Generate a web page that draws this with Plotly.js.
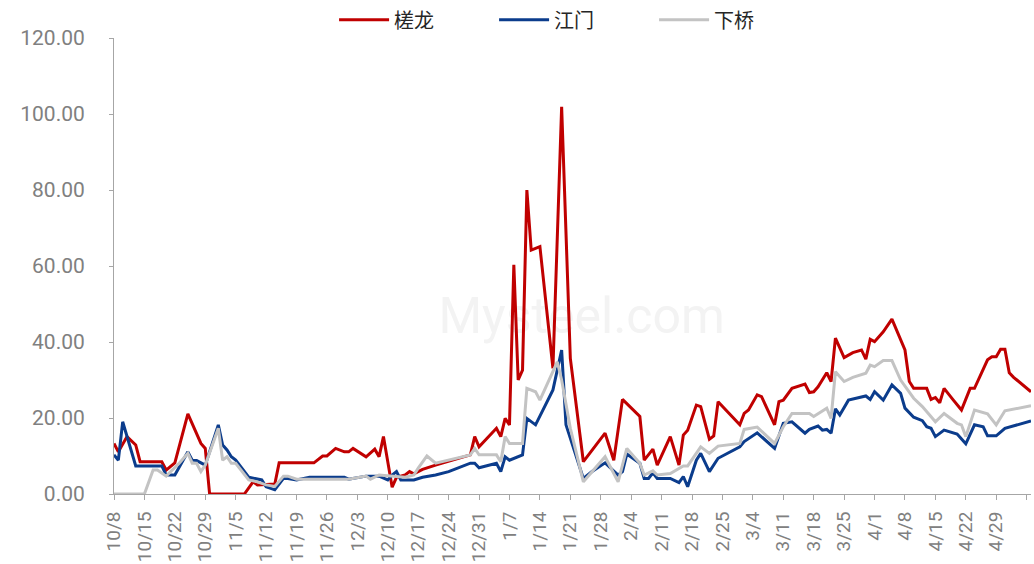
<!DOCTYPE html>
<html>
<head>
<meta charset="utf-8">
<script src="https://cdn.plot.ly/plotly-3.0.1.min.js"></script>
<style>html,body{margin:0;padding:0;background:#fff;}#chart{width:1034px;height:564px;}</style>
</head>
<body>
<div id="chart"></div>
<script>
// Series names
const seriesNames = ['槎龙', '江门', '下桥'];

// 槎龙
const chalongDates = ['2024-10-08','2024-10-09','2024-10-11','2024-10-13','2024-10-14','2024-10-19','2024-10-20','2024-10-22','2024-10-25','2024-10-28','2024-10-29','2024-10-30','2024-11-07','2024-11-09','2024-11-10','2024-11-14','2024-11-15','2024-11-23','2024-11-25','2024-11-26','2024-11-28','2024-11-30','2024-12-01','2024-12-02','2024-12-05','2024-12-07','2024-12-08','2024-12-09','2024-12-11','2024-12-12','2024-12-14','2024-12-15','2024-12-16','2024-12-18','2024-12-21','2024-12-29','2024-12-30','2024-12-31','2025-01-04','2025-01-05','2025-01-06','2025-01-07','2025-01-08','2025-01-09','2025-01-10','2025-01-11','2025-01-12','2025-01-14','2025-01-17','2025-01-19','2025-01-21','2025-01-24','2025-01-29','2025-01-31','2025-02-02','2025-02-06','2025-02-07','2025-02-09','2025-02-10','2025-02-13','2025-02-15','2025-02-16','2025-02-17','2025-02-19','2025-02-20','2025-02-22','2025-02-23','2025-02-24','2025-03-01','2025-03-02','2025-03-03','2025-03-05','2025-03-06','2025-03-09','2025-03-10','2025-03-11','2025-03-13','2025-03-16','2025-03-17','2025-03-18','2025-03-19','2025-03-21','2025-03-22','2025-03-23','2025-03-25','2025-03-27','2025-03-29','2025-03-30','2025-03-31','2025-04-01','2025-04-03','2025-04-05','2025-04-08','2025-04-09','2025-04-10','2025-04-13','2025-04-14','2025-04-15','2025-04-16','2025-04-17','2025-04-19','2025-04-21','2025-04-23','2025-04-24','2025-04-27','2025-04-28','2025-04-29','2025-04-30','2025-05-01','2025-05-02','2025-05-03','2025-05-07'];
const chalongValues = [13.3,11.1,15.1,12.9,8.5,8.5,6.3,8.2,21.1,13.3,12.0,0,0,3.2,2.4,2.6,8.2,8.2,10.0,10.0,12.0,11.1,11.1,12.0,9.8,11.8,9.8,15.1,1.8,4.4,5.0,5.9,5.3,6.5,7.6,10.3,15.1,12.4,17.3,15.1,19.9,18.2,60.3,30.0,32.6,80.0,64.2,65.1,33.1,101.9,35.7,8.5,16.0,8.9,24.9,20.4,8.9,11.8,7.6,15.1,7.6,15.5,16.8,23.4,23.0,14.4,15.3,24.3,18.2,21.2,22.1,26.1,25.6,18.2,24.3,24.7,27.8,28.9,26.7,26.9,28.2,31.9,29.6,41.0,35.9,37.2,37.9,35.5,40.7,40.1,42.7,46.0,37.9,29.6,27.8,27.8,24.9,25.4,24.0,27.8,24.9,22.1,27.8,27.8,35.3,36.1,36.1,38.1,38.1,31.9,30.7,26.9];

// 江门
const jiangmenDates = ['2024-10-08','2024-10-09','2024-10-10','2024-10-12','2024-10-13','2024-10-19','2024-10-20','2024-10-22','2024-10-25','2024-10-26','2024-10-27','2024-10-29','2024-11-01','2024-11-02','2024-11-03','2024-11-04','2024-11-05','2024-11-08','2024-11-11','2024-11-12','2024-11-14','2024-11-16','2024-11-17','2024-11-19','2024-11-22','2024-11-30','2024-12-01','2024-12-05','2024-12-08','2024-12-10','2024-12-11','2024-12-12','2024-12-13','2024-12-16','2024-12-18','2024-12-21','2024-12-24','2024-12-29','2024-12-30','2024-12-31','2025-01-04','2025-01-05','2025-01-06','2025-01-07','2025-01-10','2025-01-11','2025-01-13','2025-01-17','2025-01-19','2025-01-20','2025-01-24','2025-01-26','2025-01-29','2025-02-01','2025-02-02','2025-02-03','2025-02-06','2025-02-07','2025-02-08','2025-02-09','2025-02-10','2025-02-13','2025-02-15','2025-02-16','2025-02-17','2025-02-19','2025-02-20','2025-02-22','2025-02-24','2025-03-01','2025-03-02','2025-03-05','2025-03-09','2025-03-11','2025-03-13','2025-03-16','2025-03-17','2025-03-19','2025-03-20','2025-03-21','2025-03-22','2025-03-23','2025-03-24','2025-03-26','2025-03-30','2025-03-31','2025-04-01','2025-04-03','2025-04-05','2025-04-07','2025-04-08','2025-04-10','2025-04-12','2025-04-13','2025-04-14','2025-04-15','2025-04-17','2025-04-20','2025-04-22','2025-04-24','2025-04-26','2025-04-27','2025-04-29','2025-05-01','2025-05-07'];
const jiangmenValues = [10.3,8.9,19.0,11.6,7.4,7.4,5.0,5.0,11.1,8.9,8.8,7.6,18.2,12.9,11.6,9.8,8.9,4.4,3.7,1.9,1.1,4.1,4.1,3.7,4.4,4.4,3.9,4.7,4.7,3.7,5.0,5.9,3.7,3.7,4.4,5.0,5.9,8.1,8.1,6.9,8.1,5.9,9.8,8.9,10.3,19.9,18.2,27.4,37.9,18.2,4.1,5.9,8.2,5.0,5.9,10.5,8.1,4.1,4.1,5.6,4.1,4.1,3.0,4.6,1.9,8.9,10.7,5.9,9.4,12.4,13.8,16.1,12.0,18.6,19.0,16.0,17.0,17.9,16.8,17.0,16.0,22.4,20.8,24.7,25.8,24.9,26.9,24.7,28.7,26.5,22.6,20.2,19.3,17.7,17.3,15.1,16.8,15.8,13.2,18.2,17.7,15.3,15.3,17.3,19.2];

// 下桥
const xiaqiaoDates = ['2024-10-08','2024-10-15','2024-10-17','2024-10-18','2024-10-20','2024-10-23','2024-10-25','2024-10-26','2024-10-27','2024-10-28','2024-10-29','2024-11-01','2024-11-02','2024-11-03','2024-11-04','2024-11-05','2024-11-08','2024-11-10','2024-11-12','2024-11-14','2024-11-16','2024-11-17','2024-11-19','2024-12-01','2024-12-05','2024-12-06','2024-12-08','2024-12-12','2024-12-14','2024-12-16','2024-12-17','2024-12-19','2024-12-21','2024-12-29','2024-12-30','2024-12-31','2025-01-04','2025-01-05','2025-01-06','2025-01-07','2025-01-10','2025-01-11','2025-01-13','2025-01-14','2025-01-18','2025-01-19','2025-01-21','2025-01-24','2025-01-29','2025-02-01','2025-02-03','2025-02-06','2025-02-07','2025-02-09','2025-02-10','2025-02-13','2025-02-16','2025-02-17','2025-02-20','2025-02-22','2025-02-24','2025-03-01','2025-03-02','2025-03-05','2025-03-09','2025-03-11','2025-03-13','2025-03-17','2025-03-18','2025-03-21','2025-03-22','2025-03-23','2025-03-25','2025-03-27','2025-03-30','2025-03-31','2025-04-01','2025-04-03','2025-04-05','2025-04-07','2025-04-10','2025-04-12','2025-04-14','2025-04-15','2025-04-17','2025-04-20','2025-04-21','2025-04-22','2025-04-24','2025-04-27','2025-04-29','2025-05-01','2025-05-07'];
const xiaqiaoValues = [0,0,6.3,6.3,4.7,8.1,10.7,8.1,8.1,5.9,7.6,17.3,8.9,9.8,8.1,8.1,3.7,3.2,2.4,2.0,4.7,4.7,3.9,3.9,4.7,3.9,5.0,4.7,4.4,5.0,6.8,10.0,8.1,10.3,12.0,10.3,10.3,8.5,15.1,13.3,13.3,27.8,26.9,24.7,34.8,30.0,17.3,3.2,9.8,3.2,12.0,8.1,5.0,6.1,5.0,5.4,7.4,7.4,12.4,10.7,12.6,13.3,17.0,17.6,13.3,17.7,21.2,21.2,20.4,22.6,19.9,32.2,29.6,30.7,31.8,33.9,33.5,35.1,35.1,30.0,25.2,23.0,20.4,19.0,21.2,18.6,18.2,15.1,22.1,21.1,18.2,21.9,23.2];

const seriesColors = ['#C00000', '#0B3C8C', '#C3C3C3'];

const traces = [
  {x: chalongDates, y: chalongValues, name: seriesNames[0]},
  {x: jiangmenDates, y: jiangmenValues, name: seriesNames[1]},
  {x: xiaqiaoDates, y: xiaqiaoValues, name: seriesNames[2]}
].map((t, i) => Object.assign(t, {
  type: 'scatter', mode: 'lines',
  line: {color: seriesColors[i], width: 3}
}));

const yTickFont = {family: 'Roboto, "DejaVu Sans", sans-serif', size: 21, color: '#808080'};
const xTickFont = {family: 'Roboto, "DejaVu Sans", sans-serif', size: 19, color: '#808080'};
const axisColor = '#A6A6A6';

const layout = {
  width: 1034, height: 564,
  margin: {l: 114, r: 3, t: 38, b: 70, autoexpand: false},
  paper_bgcolor: '#ffffff', plot_bgcolor: '#ffffff',
  showlegend: true,
  legend: {
    orientation: 'h', x: 0.24, xanchor: 'left', y: 1.04, yanchor: 'middle',
    entrywidth: 95, entrywidthmode: 'pixels', itemwidth: 50,
    font: {family: '"Noto Sans CJK SC", sans-serif', size: 20, color: '#262626'},
    bgcolor: 'rgba(0,0,0,0)'
  },
  xaxis: {
    type: 'date',
    range: ['2024-10-08', '2025-05-07'],
    tick0: '2024-10-08', dtick: 7 * 86400000,
    tickformat: '%-m/%-d', tickangle: -90,
    ticks: 'outside', ticklen: 5, tickcolor: axisColor, tickwidth: 1,
    showline: true, linecolor: axisColor, linewidth: 1,
    showgrid: false, zeroline: false,
    tickfont: xTickFont, ticklabelstandoff: 4
  },
  yaxis: {
    range: [0, 120], dtick: 20, tick0: 0,
    tickformat: '.2f',
    ticks: 'outside', ticklen: 4, tickcolor: axisColor, tickwidth: 1,
    showline: true, linecolor: axisColor, linewidth: 1,
    showgrid: false, zeroline: false,
    tickfont: yTickFont, ticklabelstandoff: 20
  },
  shapes: [{
    type: 'rect', xref: 'paper', yref: 'paper', layer: 'below',
    x0: 0.36, x1: 0.66, y0: 0.35, y1: 0.45,
    line: {width: 0}, fillcolor: 'rgba(0,0,0,0)',
    label: {text: 'Mysteel.com', font: {family: 'Roboto, sans-serif', size: 50, color: '#F3F3F3'}}
  }]
};

Plotly.newPlot('chart', traces, layout, {displayModeBar: false, staticPlot: true});
</script>
</body>
</html>
